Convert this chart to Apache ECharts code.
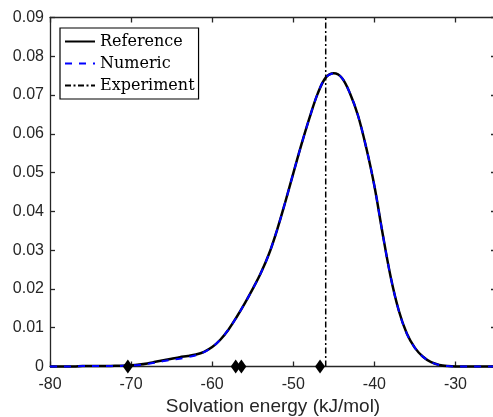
<!DOCTYPE html>
<html>
<head>
<meta charset="utf-8">
<script src="https://cdn.jsdelivr.net/npm/echarts@6/dist/echarts.min.js"></script>
<style>html,body{margin:0;padding:0;background:#fff;}#c{width:493px;height:417px;}</style>
</head>
<body>
<div id="c"></div>
<script>
const energies = [-80,-79,-78,-77,-76,-75,-74,-73,-72,-71,-70,-69,-68,-67,-66,-65,-64,-63,-62,-61,-60,-59,-58,-57,-56,-55,-54,-53,-52,-51,-50,-49,-48,-47,-46,-45,-44,-43,-42,-41,-40,-39,-38,-37,-36,-35,-34,-33,-32,-31,-30,-29,-28,-27,-26,-25];
const referenceValues = [0,0,0,0,0.0001,0.0001,0.0001,0.0001,0.0002,0.0002,0.0003,0.0005,0.0008,0.0012,0.0016,0.002,0.0024,0.0027,0.0031,0.0038,0.005,0.0069,0.0095,0.0127,0.0162,0.02,0.0241,0.029,0.0352,0.0423,0.0498,0.0572,0.0641,0.0703,0.0745,0.0756,0.0744,0.0704,0.0646,0.0564,0.0466,0.0345,0.0232,0.0145,0.0085,0.0048,0.0025,0.0011,0.0004,0.0001,0,0,0,0,0,0];
const numericValues = [0,0,0,0,0.0001,0.0001,0.0001,0.0001,0.0001,0.0002,0.0003,0.0004,0.0007,0.001,0.0014,0.0017,0.002,0.0024,0.0029,0.0037,0.005,0.0069,0.0095,0.0127,0.0162,0.02,0.0241,0.029,0.0352,0.0423,0.0498,0.0572,0.0641,0.0703,0.0745,0.0756,0.0744,0.0704,0.0646,0.0564,0.0466,0.0345,0.0232,0.0145,0.0085,0.0048,0.0025,0.0011,0.0004,0.0001,0,0,0,0,0,0];
const experimentEnergy = -46;
const markerEnergies = [-70.4, -57.1, -56.4, -46.7];
const seriesNames = ['Reference', 'Numeric', 'Experiment'];
const xLabelTitle = 'Solvation energy (kJ/mol)';

const refData = energies.map((e, i) => [e, referenceValues[i]]);
const numData = energies.map((e, i) => [e, numericValues[i]]);
const expData = [[experimentEnergy, 0], [experimentEnergy, 0.09]];
const markerData = markerEnergies.map(e => [e, 0]);

const axisColor = '#262626';
const labelFont = {fontFamily: 'Liberation Sans, Arial, sans-serif', fontSize: 16, color: axisColor};
const axisLineStyle = {color: axisColor, width: 1.3};

const chart = echarts.init(document.getElementById('c'), null, {renderer: 'canvas'});
chart.setOption({
  animation: false,
  backgroundColor: '#fff',
  grid: {left: 50, top: 17.5, bottom: 50.5, right: -3, containLabel: false, outerBoundsMode: 'none'},
  legend: {
    data: seriesNames,
    orient: 'vertical',
    left: 60, top: 28,
    padding: [5.5, 4, 5.5, 4],
    itemGap: 6,
    itemWidth: 30, itemHeight: 16,
    backgroundColor: '#fff',
    borderColor: '#000', borderWidth: 1.2, borderRadius: 0,
    selectedMode: false,
    itemStyle: {opacity: 0},
    textStyle: {fontFamily: 'DejaVu Serif, serif', fontSize: 16, color: '#000', lineHeight: 16, padding: [0,0,0,0]}
  },
  xAxis: [{
    type: 'value', min: -80, max: -25, interval: 10,
    position: 'bottom',
    name: xLabelTitle, nameLocation: 'middle', nameGap: 31,
    nameTextStyle: {fontFamily: 'Liberation Sans, Arial, sans-serif', fontSize: 19, color: axisColor},
    axisLine: {show: true, onZero: false, lineStyle: axisLineStyle},
    axisTick: {show: true, inside: true, length: 5, lineStyle: axisLineStyle},
    axisLabel: Object.assign({margin: 10, showMaxLabel: false}, labelFont),
    splitLine: {show: false}
  }, {
    type: 'value', min: -80, max: -25, interval: 10,
    position: 'top',
    axisLine: {show: true, onZero: false, lineStyle: axisLineStyle},
    axisTick: {show: true, inside: true, length: 5, lineStyle: axisLineStyle},
    axisLabel: {show: false},
    splitLine: {show: false}
  }],
  yAxis: [{
    type: 'value', min: 0, max: 0.09, interval: 0.01,
    position: 'left',
    axisLine: {show: true, onZero: false, lineStyle: axisLineStyle},
    axisTick: {show: true, inside: true, length: 5, lineStyle: axisLineStyle},
    axisLabel: Object.assign({margin: 6, formatter: v => v === 0 ? '0' : v.toFixed(2)}, labelFont),
    splitLine: {show: false}
  }, {
    type: 'value', min: 0, max: 0.09, interval: 0.01,
    position: 'right',
    axisLine: {show: true, onZero: false, lineStyle: axisLineStyle},
    axisTick: {show: true, inside: true, length: 5, lineStyle: axisLineStyle},
    axisLabel: {show: false},
    splitLine: {show: false}
  }],
  series: [{
    name: seriesNames[0], type: 'line', data: refData, smooth: 0.35,
    symbol: 'none', showSymbol: false, clip: false,
    lineStyle: {color: '#000', width: 2.5}, itemStyle: {color: '#000'}, z: 3
  }, {
    name: seriesNames[1], type: 'line', data: numData, smooth: 0.35,
    symbol: 'none', showSymbol: false, clip: false,
    lineStyle: {color: '#0000ff', width: 2, type: [7, 7]}, itemStyle: {color: '#0000ff'}, z: 4
  }, {
    name: seriesNames[2], type: 'line', data: expData,
    symbol: 'none', showSymbol: false,
    lineStyle: {color: '#000', width: 1.5, type: [6, 2.5, 2, 2.5]}, itemStyle: {color: '#000'}, z: 2
  }, {
    name: 'markers', type: 'scatter', data: markerData,
    symbol: 'diamond', symbolSize: [10, 14], clip: false,
    itemStyle: {color: '#000', opacity: 1}, z: 5
  }]
});
</script>
</body>
</html>
